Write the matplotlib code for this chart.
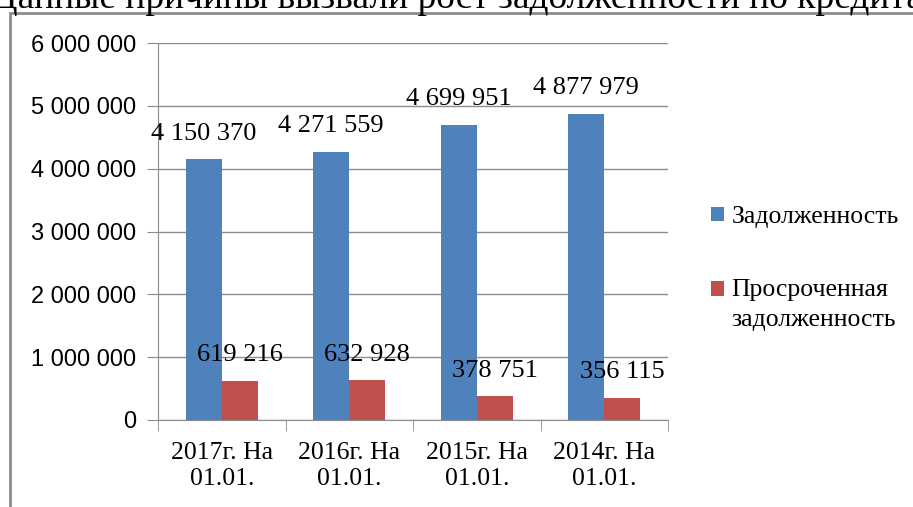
import matplotlib
matplotlib.use("Agg")
import matplotlib.pyplot as plt
from matplotlib.patches import Rectangle
from matplotlib.legend_handler import HandlerPatch
import numpy as np

categories = ["2017г. На\n01.01.", "2016г. На\n01.01.", "2015г. На\n01.01.", "2014г. На\n01.01."]
debt = [4150370, 4271559, 4699951, 4877979]
overdue = [619216, 632928, 378751, 356115]
series_names = ["Задолженность", "Просроченная\nзадолженность"]
yticks = [0, 1000000, 2000000, 3000000, 4000000, 5000000, 6000000]
title_text = "Данные причины вызвали рост задолженности по кредитам"

W, H = 913, 507
fig = plt.figure(figsize=(W / 100, H / 100), dpi=100)

def fmt(v):
    return f"{v:,}".replace(",", " ")

serif = ["Liberation Serif", "DejaVu Serif"]
sans = ["Liberation Sans", "DejaVu Sans"]

# outer frame
fig.patches.append(Rectangle((10 / W, -0.1), 1.2, 1 - 13 / H + 0.1, transform=fig.transFigure,
                             fill=False, edgecolor="#8c8c8c", linewidth=2.0, zorder=0))
fig.text(-8 / W, 1 - 8 / H, title_text, fontsize=27, family=serif, va="baseline", ha="left")

ax = fig.add_axes([158 / W, 1 - 420 / H, (668 - 158) / W, (420 - 43) / H])
x = np.arange(len(categories))
bw = 0.283
c1, c2 = "#4f81bd", "#c0504d"
b1 = ax.bar(x - bw / 2, debt, bw, color=c1, label=series_names[0], zorder=3)
b2 = ax.bar(x + bw / 2, overdue, bw, color=c2, label=series_names[1], zorder=3)

for rect, v in zip(b1, debt):
    ax.annotate(fmt(v), (rect.get_x() + rect.get_width() / 2, v), xytext=(0, 18.5),
                textcoords="offset points", ha="center", va="center", fontsize=19, family=serif)
for rect, v in zip(b2, overdue):
    ax.annotate(fmt(v), (rect.get_x() + rect.get_width() / 2, v), xytext=(0, 18.5),
                textcoords="offset points", ha="center", va="center", fontsize=19, family=serif)

ax.set_xlim(-0.5, len(categories) - 0.5)
ax.set_ylim(0, 6000000)
ax.set_yticks(yticks)
ax.set_yticklabels([fmt(v) for v in yticks], family=sans, fontsize=17)
ax.yaxis.grid(True, color="#8c8c8c", linewidth=1.0, zorder=0)
ax.set_axisbelow(True)
ax.tick_params(axis="y", length=8, color="#8c8c8c", pad=8)

ax.set_xticks(x)
ax.set_xticklabels(categories, family=serif, fontsize=18.5, linespacing=1.25)
ax.set_xticks(np.arange(len(categories) + 1) - 0.5, minor=True)
ax.tick_params(axis="x", which="major", length=0, pad=16)
ax.tick_params(axis="x", which="minor", length=8, color="#8c8c8c")

for s in ["top", "right"]:
    ax.spines[s].set_visible(False)
ax.spines["left"].set_color("#8c8c8c")
ax.spines["bottom"].set_color("#8c8c8c")


class ShiftedPatch(HandlerPatch):
    def __init__(self, shift, color, **kw):
        super().__init__(**kw)
        self.shift = shift
        self.color = color

    def create_artists(self, legend, orig_handle, xdescent, ydescent, width, height, fontsize, trans):
        p = Rectangle((-xdescent, -ydescent + self.shift), width, height,
                      facecolor=self.color, edgecolor="none", transform=trans)
        return [p]


leg = fig.legend(handles=[b1, b2], loc="upper left", bbox_to_anchor=(688 / W, 1 - 183 / H), frameon=False,
                 prop={"family": serif, "size": 18.5}, handlelength=0.5, handleheight=0.5,
                 handletextpad=0.3, labelspacing=1.98,
                 handler_map={b1: ShiftedPatch(0.0, c1), b2: ShiftedPatch(11.5, c2)})
for t in leg.get_texts():
    t.set_linespacing(1.45)

fig.savefig("out.png", dpi=100)
